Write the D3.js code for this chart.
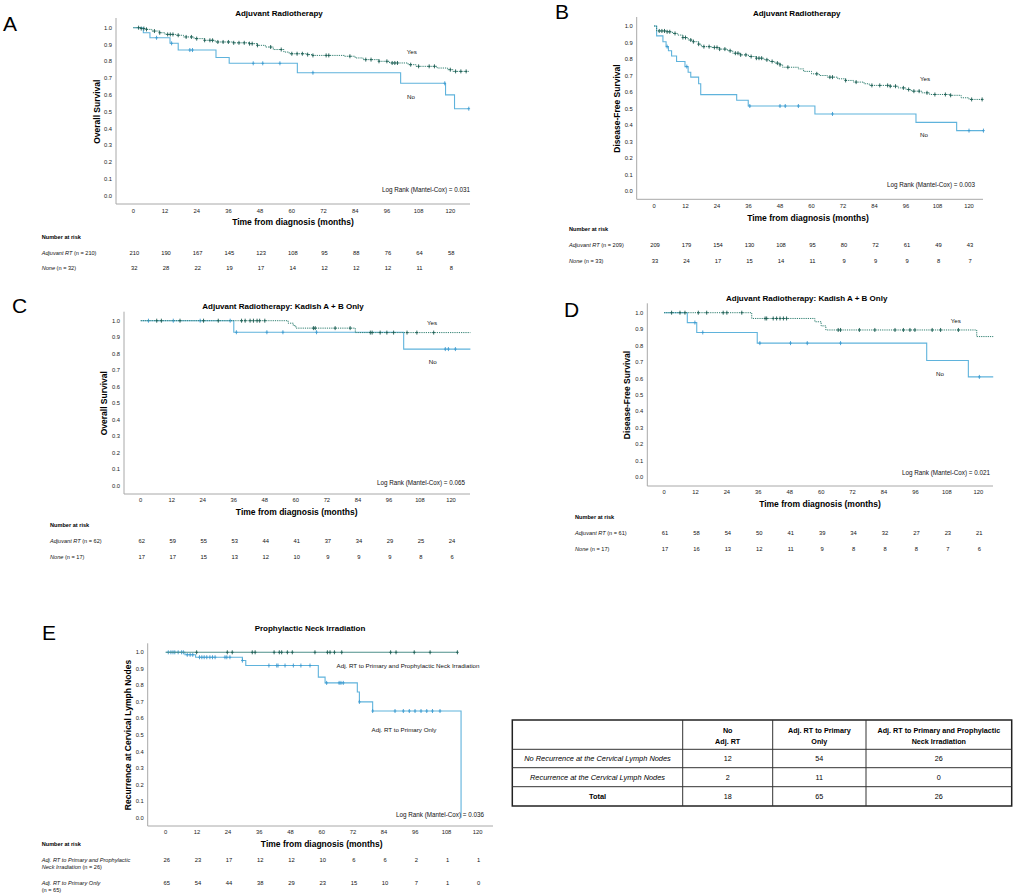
<!DOCTYPE html>
<html>
<head>
<meta charset="utf-8">
<script src="https://cdn.jsdelivr.net/npm/d3@7"></script>
<style>
  body { margin: 0; background: #fff; }
  svg { display: block; font-family: "Liberation Sans", Arial, sans-serif; }
</style>
</head>
<body>
<svg id="fig" width="1035" height="896"></svg>
<script>
// tick values
const monthTicks = [0, 12, 24, 36, 48, 60, 72, 84, 96, 108, 120];
const survTicks = [0, 0.1, 0.2, 0.3, 0.4, 0.5, 0.6, 0.7, 0.8, 0.9, 1.0];

// A: overall survival, adjuvant RT yes / no  [month, survival]
const aYesSteps = [[0,1],[3,0.995],[5,0.99],[7,0.98],[10,0.97],[12,0.96],[16,0.955],[19,0.945],[23,0.935],[27,0.925],[31,0.915],[38,0.91],[44,0.905],[47,0.895],[50,0.885],[53,0.87],[57,0.855],[59,0.845],[66,0.84],[68,0.835],[80,0.83],[84,0.82],[87,0.81],[93,0.8],[97,0.79],[104,0.78],[107,0.77],[115,0.76],[119,0.75],[121,0.74]];
const aYesCensor = [2,3,4,5,8,10,13,14,15,17,20,22,24,27,29,30,32,34,36,38,40,42,44,45,47,52,56,60,62,64,66,68,73,74,82,88,90,93,96,98,99,100,105,108,112,114,120,122,124,126];
const aNoSteps = [[0,1],[3.8,0.97],[6.3,0.94],[13.9,0.907],[17,0.867],[31.3,0.823],[36.3,0.788],[62.1,0.732],[101.2,0.669],[118.2,0.6],[121.6,0.518]];
const aNoCensor = [8.8,14.5,21.4,22.4,45.4,49,55.5,68,117.9,127];
const aRiskYes = [210,190,167,145,123,108,95,88,76,64,58];
const aRiskNo = [32,28,22,19,17,14,12,12,12,11,8];

// B: disease-free survival, adjuvant RT yes / no
const bYesSteps = [[0,1],[1,0.97],[5,0.965],[7,0.955],[9,0.945],[11,0.93],[13,0.915],[15,0.905],[17,0.89],[18,0.875],[22,0.87],[25,0.86],[28,0.85],[30,0.835],[33,0.825],[36,0.815],[39,0.805],[42,0.795],[44,0.785],[46,0.775],[48,0.765],[49,0.75],[55,0.74],[57,0.725],[60,0.71],[63,0.7],[66,0.69],[70,0.68],[73,0.67],[76,0.66],[80,0.65],[82,0.64],[90,0.635],[93,0.625],[96,0.615],[98,0.605],[102,0.595],[105,0.585],[113,0.58],[117,0.565],[120,0.555]];
const bYesCensor = [2,3,4,5,6,8,11,12,14,15,17,19,21,23,24,25,27,29,31,32,33,35,37,39,40,41,43,45,47,48,51,62,67,68,73,77,83,86,89,90,92,95,97,99,101,104,107,111,113,121,125];
const bNoSteps = [[0,1],[1,0.94],[3.4,0.905],[4.6,0.875],[5.5,0.85],[6.7,0.818],[8.6,0.785],[11.8,0.754],[13,0.72],[14,0.69],[17,0.65],[17.8,0.584],[31.5,0.55],[35.9,0.515],[61.3,0.467],[99.8,0.416],[115.3,0.366]];
const bNoCensor = [5,12.5,36.5,48,50,55,68,120,125.5];
const bRiskYes = [209,179,154,130,108,95,80,72,61,49,43];
const bRiskNo = [33,24,17,15,14,11,9,9,9,8,7];

// C: overall survival, Kadish A + B only
const cYesSteps = [[0,1],[57,0.985],[59,0.97],[60,0.955],[83,0.928]];
const cYesCensor = [6.2,8,15.2,24.3,30,39,40.4,42.3,43.6,45,46,48,66.8,67.5,75.2,81,88.8,89.5,92.6,95.2,97.8,103,106.8,113.3];
const cNoSteps = [[0,1],[36,0.93],[101.7,0.828]];
const cNoCensor = [3,12.6,23,34.6,37,48.8,55,68,117.8,119,121.7];
const cRiskYes = [62,59,55,53,44,41,37,34,29,25,24];
const cRiskNo = [17,17,15,13,12,10,9,9,9,8,6];

// D: disease-free survival, Kadish A + B only
const dYesSteps = [[0,1],[33.5,0.965],[57.6,0.945],[60,0.92],[61.8,0.895],[119.4,0.855]];
const dYesCensor = [2.9,6.1,8,13.1,16.3,22.6,24,29.7,38.6,39.2,41.7,43,44.3,45.6,46.8,66.5,67.4,74.6,80.5,88.2,91.4,93.9,95.8,102.4,105.6,112.4];
const dNoSteps = [[0,1],[8.9,0.94],[12.5,0.88],[35.6,0.815],[100.3,0.71],[116.2,0.61]];
const dNoCensor = [11.8,14.8,36.6,48.3,54.7,67.4,120.4];
const dRiskYes = [61,58,54,50,41,39,34,32,27,23,21];
const dRiskNo = [17,16,13,12,11,9,8,8,8,7,6];

// E: recurrence at cervical lymph nodes
const eNeckSteps = [[0,1]];
const eNeckCensor = [11.9,23.7,25.6,33.3,34.4,41.7,43.7,44.6,46.8,48.7,57.4,62.2,63.2,64.9,67.7,86.5,88.6,95.6,101.7,112.2];
const ePrimSteps = [[0,1],[7.4,0.985],[11.5,0.97],[29.5,0.95],[30.8,0.92],[58.7,0.85],[61.3,0.815],[73.7,0.76],[74.5,0.7],[79.6,0.645],[113.6,0]];
const ePrimCensor = [1,2,2.8,3.5,4.8,6.1,6.8,8.3,9.4,10.4,13,13.9,14.8,15.8,17,18,19,22.8,23.5,24.7,29.5,39.7,42.7,43.2,45.9,49.1,52,55.5,61.9,66.7,67.4,68.3,74.5,79.6,88.2,91.4,93.7,95.9,98.2,100.4,102.6,105.5];
const eRiskNeck = [26,23,17,12,12,10,6,6,2,1,1];
const eRiskPrim = [65,54,44,38,29,23,15,10,7,1,0];

// contingency table
const tableHeader = [[""], ["No", "Adj. RT"], ["Adj. RT to Primary", "Only"], ["Adj. RT to Primary and Prophylactic", "Neck Irradiation"]];
const tableRowLabels = ["No Recurrence at the Cervical Lymph Nodes", "Recurrence at the Cervical Lymph Nodes", "Total"];
const tableNoAdj = [12, 2, 18];
const tablePrimOnly = [54, 11, 65];
const tablePrimNeck = [26, 0, 26];

const COL_YES = "#2f7f70";
const COL_YES_MARK = "#1d5e54";
const COL_NO = "#5fb3dc";
const COL_NECK = "#4e8f8a";

const panels = [
  { letter: "A", lx: 3, ly: 31, title: "Adjuvant Radiotherapy", tx: 279, ty: 13,
    yTitle: "Overall Survival", ytx: 97,
    left: 116, right: 470, top: 18, bottom: 204, y1: 27.7, y0: 195.7, x0: 133.3, x120: 450.3,
    tickY: 210.7, xtx: 293, xty: 221.7, lr: "Log Rank (Mantel-Cox) = 0.031", lrx: 470, lry: 189,
    curves: [
      { steps: aNoSteps, censor: aNoCensor, end: 127, kind: "no", label: "No", labx: 411, laby: 96.7 },
      { steps: aYesSteps, censor: aYesCensor, end: 127, kind: "yes", label: "Yes", labx: 411.7, laby: 51.7 }
    ],
    risk: { x: 41.7, headY: 237.3, rows: [
      { lines: [["Adjuvant RT", " (n = 210)"]], y: 252.7, values: aRiskYes },
      { lines: [["None", " (n = 32)"]], y: 268.3, values: aRiskNo } ] } },
  { letter: "B", lx: 555, ly: 19, title: "Adjuvant Radiotherapy", tx: 796.7, ty: 13,
    yTitle: "Disease-Free Survival", ytx: 616.7,
    left: 636.7, right: 983, top: 17, bottom: 199.3, y1: 26, y0: 191, x0: 654, x120: 969,
    tickY: 205.7, xtx: 808, xty: 218.3, lr: "Log Rank (Mantel-Cox) = 0.003", lrx: 975, lry: 184,
    curves: [
      { steps: bNoSteps, censor: bNoCensor, end: 125.5, kind: "no", label: "No", labx: 924, laby: 134 },
      { steps: bYesSteps, censor: bYesCensor, end: 125.5, kind: "yes", label: "Yes", labx: 925, laby: 78 }
    ],
    risk: { x: 569, headY: 229.3, rows: [
      { lines: [["Adjuvant RT", " (n = 209)"]], y: 245, values: bRiskYes },
      { lines: [["None", " (n = 33)"]], y: 260.7, values: bRiskNo } ] } },
  { letter: "C", lx: 12, ly: 313, title: "Adjuvant Radiotherapy: Kadish A + B Only", tx: 283, ty: 306,
    yTitle: "Overall Survival", ytx: 104,
    left: 124, right: 470, top: 311.7, bottom: 494, y1: 320.7, y0: 485.7, x0: 140.7, x120: 451,
    tickY: 500, xtx: 296.7, xty: 511.7, lr: "Log Rank (Mantel-Cox) = 0.065", lrx: 465, lry: 482.3,
    curves: [
      { steps: cNoSteps, censor: cNoCensor, end: 127.5, kind: "no", label: "No", labx: 432.7, laby: 361.7 },
      { steps: cYesSteps, censor: cYesCensor, end: 127.5, kind: "yes", label: "Yes", labx: 432, laby: 322.3 }
    ],
    risk: { x: 50, headY: 525, rows: [
      { lines: [["Adjuvant RT", " (n = 62)"]], y: 540.7, values: cRiskYes },
      { lines: [["None", " (n = 17)"]], y: 556.7, values: cRiskNo } ] } },
  { letter: "D", lx: 564, ly: 317, title: "Adjuvant Radiotherapy: Kadish A + B Only", tx: 806.7, ty: 298.3,
    yTitle: "Disease-Free Survival", ytx: 627.3,
    left: 647.3, right: 993, top: 303.3, bottom: 486, y1: 312.7, y0: 477.3, x0: 664, x120: 978.3,
    tickY: 492.3, xtx: 820, xty: 504, lr: "Log Rank (Mantel-Cox) = 0.021", lrx: 990, lry: 472.3,
    curves: [
      { steps: dNoSteps, censor: dNoCensor, end: 125.7, kind: "no", label: "No", labx: 940, laby: 373.3 },
      { steps: dYesSteps, censor: dYesCensor, end: 125.7, kind: "yes", label: "Yes", labx: 955.7, laby: 320 }
    ],
    risk: { x: 575, headY: 517.3, rows: [
      { lines: [["Adjuvant RT", " (n = 61)"]], y: 533.3, values: dRiskYes },
      { lines: [["None", " (n = 17)"]], y: 549.3, values: dRiskNo } ] } },
  { letter: "E", lx: 42, ly: 640, title: "Prophylactic Neck Irradiation", tx: 310, ty: 628.3,
    yTitle: "Recurrence at Cervical Lymph Nodes", ytx: 127.7,
    left: 147.7, right: 493, top: 643.3, bottom: 826, y1: 652.3, y0: 817.7, x0: 165.7, x120: 477.7,
    tickY: 832.3, xtx: 321.7, xty: 844, lr: "Log Rank (Mantel-Cox) = 0.036", lrx: 484, lry: 814.3,
    curves: [
      { steps: ePrimSteps, censor: ePrimCensor, end: 113.6, kind: "no", label: "Adj. RT to Primary Only", labx: 404, laby: 729 },
      { steps: eNeckSteps, censor: eNeckCensor, end: 112.2, kind: "neck", label: "Adj. RT to Primary and Prophylactic Neck Irradiation", labx: 408, laby: 665 }
    ],
    risk: { x: 41.7, headY: 844, rows: [
      { lines: [["Adj. RT to Primary and Prophylactic", ""], ["Neck Irradiation", "  (n = 26)"]], y: 860.3, values: eRiskNeck },
      { lines: [["Adj. RT to Primary Only", ""], ["", "(n = 65)"]], y: 883.3, values: eRiskPrim } ] } }
];

const svg = d3.select("#fig");

function survAt(steps, t) {
  let s = steps[0][1];
  steps.forEach(d => { if (d[0] <= t) s = d[1]; });
  return s;
}

panels.forEach(p => {
  const g = svg.append("g");
  const x = d3.scaleLinear().domain([0, 120]).range([p.x0, p.x120]);
  const y = d3.scaleLinear().domain([0, 1]).range([p.y0, p.y1]);

  g.append("text").attr("x", p.lx).attr("y", p.ly)
    .attr("font-size", 21).attr("fill", "#000").text(p.letter);

  g.append("text").attr("x", p.tx).attr("y", p.ty).attr("text-anchor", "middle")
    .attr("dominant-baseline", "central").attr("font-size", 8).attr("font-weight", "bold").text(p.title);

  // axis lines (SPSS style, no ticks)
  g.append("line").attr("x1", p.left).attr("x2", p.left).attr("y1", p.top).attr("y2", p.bottom)
    .attr("stroke", "#a8a8a8").attr("stroke-width", 1);
  g.append("line").attr("x1", p.left).attr("x2", p.right).attr("y1", p.bottom).attr("y2", p.bottom)
    .attr("stroke", "#a8a8a8").attr("stroke-width", 1);

  g.selectAll(".ytick").data(survTicks).enter().append("text")
    .attr("x", p.left - 4).attr("y", d => y(d))
    .attr("text-anchor", "end").attr("dominant-baseline", "central")
    .attr("font-size", 5.8).attr("fill", "#222").text(d => d.toFixed(1));

  g.selectAll(".xtick").data(monthTicks).enter().append("text")
    .attr("x", d => x(d)).attr("y", p.tickY)
    .attr("text-anchor", "middle").attr("dominant-baseline", "central")
    .attr("font-size", 5.8).attr("fill", "#222").text(d => d);

  g.append("text").attr("x", p.xtx).attr("y", p.xty).attr("text-anchor", "middle")
    .attr("dominant-baseline", "central").attr("font-size", 8.5).attr("font-weight", "bold")
    .text("Time from diagnosis (months)");

  const yc = (p.y0 + p.y1) / 2;
  g.append("text").attr("transform", `translate(${p.ytx},${yc}) rotate(-90)`)
    .attr("text-anchor", "middle").attr("dominant-baseline", "central")
    .attr("font-size", 8.5).attr("font-weight", "bold").text(p.yTitle);

  // curves
  const line = d3.line().x(d => x(d[0])).y(d => y(d[1])).curve(d3.curveStepAfter);
  p.curves.forEach(c => {
    const last = c.steps[c.steps.length - 1];
    const pts = c.steps.concat(last[0] < c.end ? [[c.end, last[1]]] : []);
    const col = c.kind === "yes" ? COL_YES : (c.kind === "neck" ? COL_NECK : COL_NO);
    g.append("path").attr("d", line(pts)).attr("fill", "none")
      .attr("stroke", col).attr("stroke-width", c.kind === "yes" ? 1 : 1.1)
      .attr("stroke-dasharray", c.kind === "yes" ? "1.2,1" : null);

    const markCol = c.kind === "no" ? "#3d9bd0" : COL_YES_MARK;
    c.censor.forEach(t => {
      const cx = x(t), cy = y(survAt(c.steps, t));
      g.append("line").attr("x1", cx).attr("x2", cx).attr("y1", cy - 2).attr("y2", cy + 2)
        .attr("stroke", markCol).attr("stroke-width", 0.9);
      g.append("line").attr("x1", cx - 1.3).attr("x2", cx + 1.3).attr("y1", cy).attr("y2", cy)
        .attr("stroke", markCol).attr("stroke-width", 0.9);
    });

    g.append("text").attr("x", c.labx).attr("y", c.laby).attr("text-anchor", "middle")
      .attr("dominant-baseline", "central").attr("font-size", 6.2).attr("fill", "#111").text(c.label);
  });

  g.append("text").attr("x", p.lrx).attr("y", p.lry).attr("text-anchor", "end")
    .attr("dominant-baseline", "central").attr("font-size", 6.3).attr("fill", "#111").text(p.lr);

  // number at risk
  g.append("text").attr("x", p.risk.x).attr("y", p.risk.headY).attr("dominant-baseline", "central")
    .attr("font-size", 5.6).attr("font-weight", "bold").text("Number at risk");
  p.risk.rows.forEach(r => {
    r.lines.forEach((ln, i) => {
      const t = g.append("text").attr("x", p.risk.x).attr("y", r.y + i * 6.7)
        .attr("dominant-baseline", "central").attr("font-size", 5.6).attr("fill", "#111");
      t.append("tspan").attr("font-style", "italic").text(ln[0]);
      t.append("tspan").text(ln[1]);
    });
    g.selectAll(null).data(r.values).enter().append("text")
      .attr("x", (d, i) => x(monthTicks[i]) + 1).attr("y", r.y)
      .attr("text-anchor", "middle").attr("dominant-baseline", "central")
      .attr("font-size", 5.8).attr("fill", "#111").text(d => d);
  });
});

// table
const colX = [512.3, 682.7, 772.7, 866, 1011.7];
const rowY = [720, 749.3, 767.7, 786.7, 806];
const tg = svg.append("g");
tg.append("rect").attr("x", colX[0]).attr("y", rowY[0])
  .attr("width", colX[4] - colX[0]).attr("height", rowY[4] - rowY[0])
  .attr("fill", "none").attr("stroke", "#222").attr("stroke-width", 1.5);
colX.slice(1, 4).forEach(cx => {
  tg.append("line").attr("x1", cx).attr("x2", cx).attr("y1", rowY[0]).attr("y2", rowY[4])
    .attr("stroke", "#333").attr("stroke-width", 1);
});
rowY.slice(1, 4).forEach(ry => {
  tg.append("line").attr("x1", colX[0]).attr("x2", colX[4]).attr("y1", ry).attr("y2", ry)
    .attr("stroke", "#333").attr("stroke-width", 1);
});
const colMid = i => (colX[i] + colX[i + 1]) / 2;
tableHeader.forEach((lines, i) => {
  lines.forEach((ln, j) => {
    tg.append("text").attr("x", colMid(i)).attr("y", 730 + j * 11.7)
      .attr("text-anchor", "middle").attr("dominant-baseline", "central")
      .attr("font-size", 7.2).attr("font-weight", "bold").text(ln);
  });
});
const tableCols = [tableNoAdj, tablePrimOnly, tablePrimNeck];
tableRowLabels.forEach((lab, r) => {
  const cy = (rowY[r + 1] + rowY[r + 2]) / 2;
  const isTotal = r === tableRowLabels.length - 1;
  tg.append("text").attr("x", colMid(0)).attr("y", cy).attr("text-anchor", "middle")
    .attr("dominant-baseline", "central").attr("font-size", 7.4)
    .attr("font-style", isTotal ? null : "italic").attr("font-weight", isTotal ? "bold" : null).text(lab);
  tableCols.forEach((vals, c) => {
    tg.append("text").attr("x", colMid(c + 1)).attr("y", cy).attr("text-anchor", "middle")
      .attr("dominant-baseline", "central").attr("font-size", 7.2).text(vals[r]);
  });
});
</script>
</body>
</html>
